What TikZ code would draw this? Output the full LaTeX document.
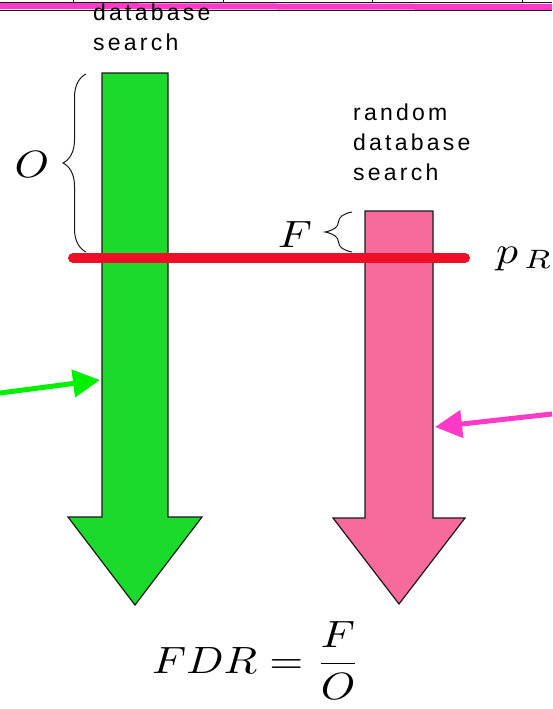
\documentclass[tikz,border=0pt]{standalone}
\usepackage{fontspec}
\usepackage{tikz}
\usetikzlibrary{arrows.meta,positioning,decorations.pathreplacing}
\newfontfamily\lblfont[LetterSpace=14]{Liberation Sans}
\definecolor{ink}{RGB}{25,25,25}
\definecolor{bargreen}{RGB}{28,218,44}
\definecolor{barpink}{RGB}{246,106,156}
\definecolor{cutred}{RGB}{238,14,40}
\definecolor{ptgreen}{RGB}{0,240,0}
\definecolor{ptpink}{RGB}{255,58,200}
\newcommand\mth[1]{\scalebox{4.37}[3.8]{$\displaystyle #1$}}

\begin{document}
\begin{tikzpicture}[x=1pt,y=-1pt,>=Latex,
 bar/.style={draw=ink,line width=1.2pt,line join=miter},
 lbl/.style={font=\lblfont\fontsize{23}{30}\selectfont,align=left,inner sep=0pt,anchor=base west},
 mlbl/.style={inner sep=0pt},
 br/.style={draw=ink,line width=1pt,decorate,decoration={brace,amplitude=#1}},
 ptr/.style={line width=5pt,-{Triangle[length=27pt,width=27pt]}}]
 \useasboundingbox (0,0) rectangle (552,709);
 % cut-off table row at the top
 \draw[ink,line width=1pt] (0,3) -- (552,3);
 \foreach \x in {73,223,372,522} \draw[ink,line width=1pt] (\x,0) -- (\x,3);
 \draw[ink,line width=0.8pt] (0,10) -- (552,10);
 \fill[ptpink] (0,3) -- (552,4) -- (552,10) -- (0,9) -- cycle;
 % the two search arrows
 \draw[bar,fill=bargreen] (102,73) -- (168,73) -- (168,517) -- (202,517) -- (135,605) -- (68,517) -- (102,517) -- cycle;
 \draw[bar,fill=barpink] (365,211) -- (433,211) -- (433,518) -- (465,518) -- (399,604) -- (333,518) -- (365,518) -- cycle;
 \coordinate (gbar) at (100,380);
 \coordinate (pbar) at (435,427);
 % threshold
 \coordinate (cutL) at (73,258);
 \coordinate (cutR) at (465,258);
 \draw[cutred,line width=10pt,line cap=round] (cutL) -- (cutR);
 % braces
 \draw[br=23pt] (86,252) -- (86,74);
 \draw[br=27pt] (352,252) -- (352,212);
 \node[mlbl] (olbl) at (32,165) {\mth{O}};
 \node[mlbl] (flbl) at (295,235) {\mth{F}};
 \node[mlbl,anchor=base west] (prlbl) at (496,263) {\mth{p_{\,R}}};
 \node[mlbl,anchor=base west] (fdr) at (152,673) {\mth{FDR=\frac{F}{O}}};
 % texts (base = last line)
 \node[lbl] (tgt) at (93,51) {database\\search};
 \node[lbl] (rnd) at (353,180) {random\\database\\search};
 % pointers
 \coordinate (gtail) at (0,393);
 \coordinate (ptail) at (552,414);
 \draw[ptr,ptgreen] (gtail) -- (gbar);
 \draw[ptr,ptpink] (ptail) -- (pbar);
\end{tikzpicture}
\end{document}
